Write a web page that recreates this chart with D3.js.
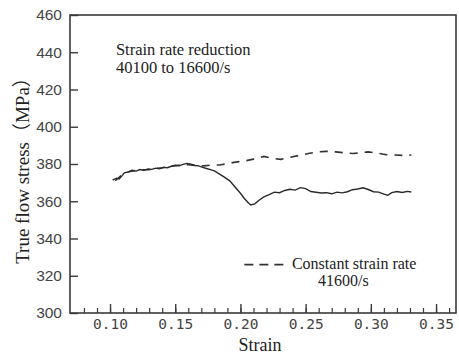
<!DOCTYPE html>
<html>
<head>
<meta charset="utf-8">
<script src="https://cdn.jsdelivr.net/npm/d3@7"></script>
<style>
  body { margin: 0; background: #fff; }
  svg { display: block; }
</style>
</head>
<body>
<div id="chart"></div>
<script>
// values
const reducedStrain = [0.102, 0.105, 0.107, 0.109, 0.111, 0.114, 0.117, 0.120, 0.123, 0.126, 0.129,
  0.132, 0.135, 0.138, 0.141, 0.144, 0.147, 0.150, 0.153, 0.156, 0.159, 0.162, 0.165, 0.168,
  0.171, 0.174, 0.177, 0.180, 0.184, 0.188, 0.192, 0.196, 0.200, 0.203, 0.206, 0.208, 0.211,
  0.214, 0.218, 0.222, 0.226, 0.230, 0.234, 0.238, 0.242, 0.246, 0.250, 0.254, 0.258, 0.262,
  0.266, 0.270, 0.274, 0.278, 0.282, 0.286, 0.290, 0.294, 0.298, 0.302, 0.306, 0.310, 0.313,
  0.316, 0.320, 0.324, 0.328, 0.331]
const reducedStress = [371.3, 372.4, 372.0, 373.5, 375.3, 375.8, 376.6, 376.2, 377.0, 376.6, 377.3,
  377.1, 377.8, 377.4, 378.2, 378.0, 378.8, 379.3, 379.0, 379.8, 380.3, 379.9, 379.2, 379.0,
  378.2, 377.6, 377.0, 376.3, 374.6, 372.8, 370.8, 367.5, 364.3, 361.5, 359.2, 358.0, 358.6,
  360.4, 362.3, 363.5, 364.9, 364.6, 365.8, 366.4, 366.0, 367.3, 366.8, 365.2, 364.8, 364.4,
  364.6, 364.0, 364.9, 364.5, 365.1, 366.2, 366.6, 367.2, 366.3, 365.1, 364.9, 363.8, 363.2,
  364.6, 365.2, 364.7, 365.3, 365.0]

const constStrain = [0.104, 0.108, 0.112, 0.116, 0.120, 0.125, 0.130, 0.135, 0.140, 0.145, 0.150,
  0.155, 0.160, 0.166, 0.172, 0.178, 0.184, 0.190, 0.196, 0.203, 0.210, 0.218, 0.225, 0.231,
  0.238, 0.245, 0.252, 0.259, 0.266, 0.273, 0.280, 0.286, 0.292, 0.298, 0.305, 0.312, 0.319,
  0.326, 0.331]
const constStress = [371.0, 373.5, 375.4, 376.1, 376.5, 376.9, 377.0, 377.6, 378.0, 378.6, 379.1,
  379.5, 379.6, 379.2, 379.0, 379.4, 379.5, 380.2, 381.0, 381.6, 382.6, 384.1, 383.0, 382.5,
  383.6, 384.6, 385.6, 386.5, 386.8, 386.5, 386.0, 385.6, 386.0, 386.5, 385.8, 385.0, 384.8,
  384.6, 384.8]

const yTicks = [300, 320, 340, 360, 380, 400, 420, 440, 460]
const xMajorTicks = [0.10, 0.15, 0.20, 0.25, 0.30, 0.35]
const xMinorTicks = d3.range(8, 37).map(d => d / 100)

const W = 459, H = 354
const margin = {top: 15, right: 3, bottom: 41, left: 70}
const w = W - margin.left - margin.right
const h = H - margin.top - margin.bottom

const svg = d3.select('#chart').append('svg')
    .attr('width', W)
    .attr('height', H)

const x = d3.scaleLinear().domain([0.0693, 0.3653]).range([0, w])
const y = d3.scaleLinear().domain([300, 460]).range([h, 0])

const g = svg.append('g').attr('transform', `translate(${margin.left},${margin.top})`)

const axisColor = '#3a3a3a'

// frame
g.append('rect')
    .attr('width', w).attr('height', h)
    .attr('fill', 'none')
    .attr('stroke', axisColor)
    .attr('stroke-width', 1.6)

// y axis, ticks pointing inward
const yAxis = g.append('g')
    .call(d3.axisLeft(y).tickValues(yTicks).tickSizeInner(-8).tickSizeOuter(0).tickPadding(8))
yAxis.select('.domain').remove()
yAxis.selectAll('line').attr('stroke', axisColor).attr('stroke-width', 1.4)
yAxis.selectAll('text')
    .attr('fill', '#444')
    .style('font-family', '"Liberation Sans", Arial, sans-serif')
    .style('font-size', '15.5px')

// x axis minor ticks
const xMinor = g.append('g')
    .attr('transform', `translate(0,${h})`)
    .call(d3.axisBottom(x).tickValues(xMinorTicks).tickSizeInner(-5).tickSizeOuter(0).tickFormat(''))
xMinor.select('.domain').remove()
xMinor.selectAll('line').attr('stroke', axisColor).attr('stroke-width', 1.2)

// x axis major ticks
const xAxis = g.append('g')
    .attr('transform', `translate(0,${h})`)
    .call(d3.axisBottom(x).tickValues(xMajorTicks).tickSizeInner(-9).tickSizeOuter(0)
        .tickFormat(d3.format('.2f')).tickPadding(6))
xAxis.select('.domain').remove()
xAxis.selectAll('line').attr('stroke', axisColor).attr('stroke-width', 1.4)
xAxis.selectAll('text')
    .attr('fill', '#444')
    .style('font-family', '"DejaVu Sans Mono", monospace')
    .style('font-size', '14.5px')

// curves
const line = d3.line().x(d => x(d[0])).y(d => y(d[1]))

g.append('path')
    .datum(d3.zip(constStrain, constStress))
    .attr('d', line)
    .attr('fill', 'none')
    .attr('stroke', '#333')
    .attr('stroke-width', 1.6)
    .attr('stroke-dasharray', '8,7')

g.append('path')
    .datum(d3.zip(reducedStrain, reducedStress))
    .attr('d', line)
    .attr('fill', 'none')
    .attr('stroke', '#2a2a2a')
    .attr('stroke-width', 1.4)

// annotations
const serif = '"Liberation Serif", "Times New Roman", serif'
const note = g.append('text')
    .attr('x', x(0.1045))
    .style('font-family', serif)
    .style('font-size', '16.5px')
    .attr('fill', '#222')
note.append('tspan').attr('y', y(440) + 3).text('Strain rate reduction')
note.append('tspan').attr('x', x(0.1045)).attr('y', y(440) + 21).text('40100 to 16600/s')

// legend
g.append('line')
    .attr('x1', x(0.203)).attr('x2', x(0.236))
    .attr('y1', y(326)).attr('y2', y(326))
    .attr('stroke', '#333').attr('stroke-width', 1.6)
    .attr('stroke-dasharray', '9,6')
g.append('text')
    .attr('x', x(0.2395)).attr('y', y(323.5))
    .style('font-family', serif).style('font-size', '16px')
    .attr('fill', '#222')
    .text('Constant strain rate')
g.append('text')
    .attr('x', x(0.279)).attr('y', y(314.3))
    .attr('text-anchor', 'middle')
    .style('font-family', serif).style('font-size', '16px')
    .attr('fill', '#222')
    .text('41600/s')

// axis titles
svg.append('text')
    .attr('x', margin.left + x(0.215)).attr('y', 351)
    .attr('text-anchor', 'middle')
    .style('font-family', serif).style('font-size', '18px')
    .attr('fill', '#222')
    .text('Strain')

svg.append('text')
    .attr('transform', 'translate(29,166) rotate(-90)')
    .attr('text-anchor', 'middle')
    .style('font-family', serif + ', "Noto Sans CJK SC"')
    .style('font-size', '19px')
    .attr('fill', '#222')
    .text('True flow stress（MPa）')
</script>
</body>
</html>
